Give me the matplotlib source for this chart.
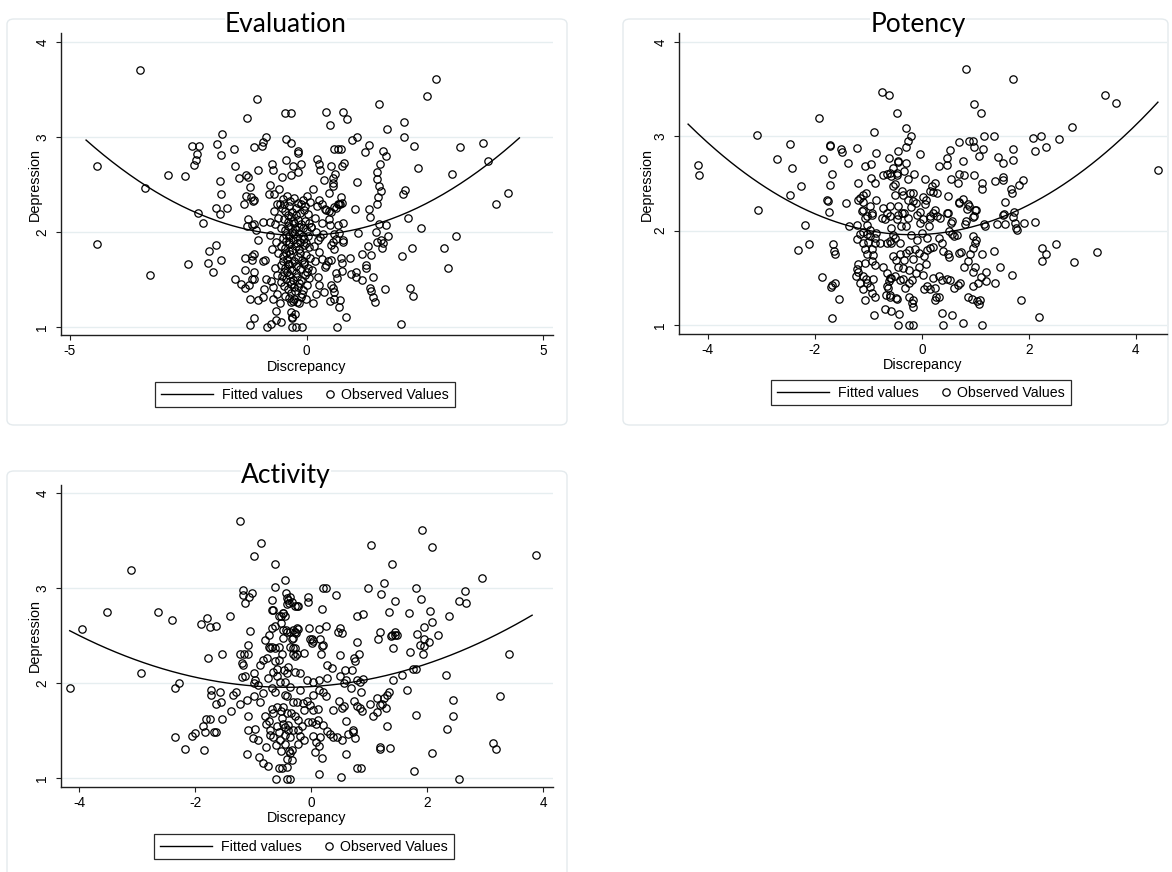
import numpy as np
import matplotlib.pyplot as plt
from matplotlib.legend_handler import HandlerLine2D
from matplotlib.patches import FancyBboxPatch

plt.rcParams["font.family"] = ["Liberation Sans", "DejaVu Sans"]
plt.rcParams["axes.unicode_minus"] = False

# ── data ─────────────────────────────────────────────────────────────
eval_obs = np.array([
    (-4.43, 2.69), (-4.43, 1.87), (-3.51, 3.71), (-3.41, 2.46), (-3.30, 1.55),
    (-2.93, 2.60), (-2.57, 2.59), (-2.50, 1.66), (-2.42, 2.91), (-2.37, 2.71),
    (-2.33, 2.76), (-2.32, 2.82), (-2.29, 2.20), (-2.28, 2.91), (-2.19, 2.10),
    (-2.09, 1.67), (-2.06, 1.80), (-1.97, 1.58), (-1.92, 2.25), (-1.92, 1.86),
    (-1.90, 2.93), (-1.83, 2.54), (-1.82, 2.19), (-1.80, 2.81), (-1.80, 2.40),
    (-1.80, 1.71), (-1.78, 3.03), (-1.68, 2.25), (-1.54, 2.87), (-1.52, 2.70),
    (-1.51, 1.51), (-1.43, 2.57), (-1.38, 1.45), (-1.33, 2.29), (-1.31, 1.60),
    (-1.30, 1.73), (-1.30, 1.41), (-1.27, 2.60), (-1.27, 2.38), (-1.26, 2.06),
    (-1.25, 3.20), (-1.24, 2.58), (-1.24, 2.14), (-1.21, 1.44), (-1.20, 1.29),
    (-1.20, 1.02), (-1.19, 2.47), (-1.17, 2.37), (-1.16, 2.07), (-1.16, 1.75),
    (-1.16, 1.71), (-1.16, 1.51), (-1.14, 2.33), (-1.12, 1.51), (-1.11, 2.90),
    (-1.11, 2.34), (-1.11, 1.58), (-1.11, 1.10), (-1.10, 2.08), (-1.10, 1.77),
    (-1.06, 2.02), (-1.05, 3.40), (-1.03, 2.65), (-1.03, 1.92), (-1.03, 1.28),
    (-0.95, 2.91), (-0.93, 1.32), (-0.92, 2.95), (-0.92, 2.11), (-0.92, 1.69),
    (-0.89, 1.40), (-0.87, 1.71), (-0.86, 3.00), (-0.85, 1.51), (-0.83, 1.00),
    (-0.80, 2.40), (-0.78, 2.49), (-0.78, 2.11), (-0.78, 1.97), (-0.75, 1.03),
    (-0.72, 2.72), (-0.71, 1.42), (-0.70, 2.65), (-0.66, 2.08), (-0.64, 1.17),
    (-0.64, 1.07), (-0.56, 1.25), (-0.53, 1.05), (-0.51, 2.58), (-0.45, 3.25),
    (-0.44, 2.98), (-0.44, 2.76), (-0.33, 3.25), (-0.32, 2.94), (-0.32, 2.60),
    (-0.29, 2.69), (-0.18, 2.85), (-0.18, 2.83), (-0.18, 2.63), (-0.11, 2.72),
    (-0.30, 1.00), (-0.23, 1.00), (-0.09, 1.00), (-0.31, 1.09), (-0.25, 1.14),
    (-0.33, 1.26), (-0.20, 1.26), (-0.29, 1.27), (-0.15, 1.25), (-0.32, 1.16),
    (-0.30, 1.11), (-0.62, 2.30), (-0.68, 2.22), (-0.60, 2.15), (-0.65, 1.90),
    (-0.72, 1.82), (-0.60, 1.78), (-0.67, 1.62), (-0.62, 1.55), (-0.75, 1.48),
    (-0.68, 2.40), (-0.58, 2.45), (-0.62, 1.35), (-0.70, 1.30),
    (-0.50, 2.35), (-0.42, 2.38), (-0.35, 2.33), (-0.27, 2.36), (-0.18, 2.31),
    (-0.08, 2.34), (0.02, 2.38), (0.08, 2.32), (-0.52, 2.25), (-0.45, 2.22),
    (-0.38, 2.27), (-0.30, 2.21), (-0.22, 2.25), (-0.14, 2.20), (-0.05, 2.23),
    (0.04, 2.19), (-0.48, 2.14), (-0.40, 2.11), (-0.33, 2.16), (-0.26, 2.09),
    (-0.19, 2.13), (-0.11, 2.08), (-0.03, 2.12), (0.06, 2.10), (-0.55, 2.04),
    (-0.46, 2.02), (-0.39, 2.06), (-0.31, 2.00), (-0.24, 2.03), (-0.16, 1.99),
    (-0.08, 2.04), (0.01, 2.01), (0.09, 2.05), (-0.50, 1.94), (-0.43, 1.91),
    (-0.36, 1.96), (-0.28, 1.92), (-0.21, 1.95), (-0.13, 1.90), (-0.05, 1.93),
    (0.03, 1.96), (-0.53, 1.85), (-0.45, 1.83), (-0.38, 1.87), (-0.30, 1.81),
    (-0.23, 1.85), (-0.15, 1.82), (-0.06, 1.86), (0.05, 1.84), (-0.49, 1.75),
    (-0.41, 1.72), (-0.34, 1.77), (-0.27, 1.70), (-0.19, 1.74), (-0.10, 1.71),
    (-0.02, 1.76), (0.07, 1.73), (-0.55, 1.65), (-0.46, 1.62), (-0.38, 1.66),
    (-0.31, 1.60), (-0.23, 1.64), (-0.14, 1.61), (-0.05, 1.66), (0.04, 1.62),
    (-0.52, 1.54), (-0.44, 1.51), (-0.36, 1.55), (-0.28, 1.49), (-0.20, 1.53),
    (-0.12, 1.50), (-0.03, 1.55), (0.06, 1.52), (-0.48, 1.43), (-0.40, 1.40),
    (-0.33, 1.45), (-0.25, 1.38), (-0.17, 1.42), (-0.08, 1.39), (0.02, 1.44),
    (-0.45, 1.33), (-0.37, 1.31), (-0.12, 1.32), (-0.02, 1.30),
    (-0.47, 2.30), (-0.40, 2.18), (-0.34, 2.05), (-0.27, 1.98), (-0.20, 1.88),
    (-0.13, 1.78), (-0.06, 1.68), (0.00, 1.58), (-0.44, 1.97), (-0.37, 1.80),
    (-0.30, 1.67), (-0.23, 1.57), (-0.16, 1.46), (-0.09, 1.35), (-0.41, 1.58),
    (-0.34, 1.48), (-0.27, 1.42), (-0.50, 1.70), (-0.43, 1.78), (-0.36, 1.90),
    (-0.29, 2.12), (-0.22, 2.18), (-0.15, 2.05), (-0.08, 1.96), (-0.01, 1.88),
    (-0.54, 1.47), (-0.47, 1.58), (-0.40, 1.66), (-0.33, 1.36), (-0.26, 1.30),
    (-0.57, 2.30), (-0.11, 2.30), (-0.04, 2.27), (0.23, 2.27), (0.33, 2.29),
    (0.40, 2.24), (0.47, 2.22), (0.59, 2.26), (0.66, 2.29), (0.71, 2.30),
    (0.49, 2.07), (0.66, 2.07), (0.77, 2.09), (0.47, 2.14), (0.33, 2.09),
    (0.21, 2.00), (0.35, 1.98), (0.24, 1.92), (0.26, 1.79), (0.59, 1.98),
    (0.23, 2.77), (0.27, 2.72), (0.29, 2.65), (0.37, 2.55), (0.42, 3.26),
    (0.49, 3.13), (0.52, 2.69), (0.55, 2.52), (0.56, 2.48), (0.57, 2.57),
    (0.59, 2.87), (0.60, 2.61), (0.66, 2.87), (0.73, 2.87), (0.75, 2.70),
    (0.77, 3.26), (0.80, 2.73), (0.86, 3.19), (0.97, 2.97), (1.07, 3.00),
    (1.23, 2.84), (1.32, 2.92), (1.53, 3.35), (1.56, 2.72), (1.61, 2.85),
    (1.68, 2.80), (1.71, 3.08), (2.05, 3.16), (2.06, 3.00), (2.28, 2.91),
    (2.35, 2.67), (2.54, 3.43), (2.73, 3.61), (3.07, 2.61), (3.24, 2.89),
    (3.74, 2.94), (3.83, 2.75), (4.00, 2.29), (4.26, 2.41),
    (0.26, 2.34), (0.42, 2.23), (0.47, 2.41), (0.52, 2.21), (0.63, 2.25),
    (0.68, 2.29), (0.73, 2.37), (0.76, 2.31), (1.03, 2.24), (1.06, 2.53),
    (1.32, 2.24), (1.35, 2.16), (1.49, 2.63), (1.49, 2.29), (1.50, 2.56),
    (1.52, 2.37), (1.54, 2.48), (1.58, 2.43), (2.03, 2.40), (2.09, 2.44),
    (2.14, 2.15), (0.24, 1.53), (0.27, 1.44), (0.37, 1.37), (0.38, 1.63),
    (0.42, 1.65), (0.45, 1.69), (0.49, 1.27), (0.52, 1.86), (0.52, 1.71),
    (0.52, 1.44), (0.56, 1.90), (0.56, 1.41), (0.59, 1.82), (0.59, 1.37),
    (0.59, 1.30), (0.62, 1.57), (0.63, 1.93), (0.64, 1.00), (0.65, 1.52),
    (0.68, 1.99), (0.68, 1.21), (0.70, 1.28), (0.73, 1.73), (0.75, 1.59),
    (0.76, 1.67), (0.77, 1.92), (0.78, 1.89), (0.84, 1.11), (0.92, 1.73),
    (0.93, 1.56), (1.05, 1.58), (1.05, 1.53), (1.08, 1.99), (1.17, 1.49),
    (1.18, 1.77), (1.25, 1.65), (1.26, 1.62), (1.30, 1.85), (1.35, 1.41),
    (1.37, 1.76), (1.37, 1.38), (1.40, 1.53), (1.40, 1.32), (1.44, 1.26),
    (1.47, 2.00), (1.49, 1.89), (1.53, 2.08), (1.58, 1.92), (1.59, 1.83),
    (1.61, 1.88), (1.66, 1.40), (1.67, 2.07), (1.72, 1.96), (1.99, 1.03),
    (2.02, 1.75), (2.18, 1.41), (2.23, 1.83), (2.25, 1.33), (2.42, 2.04),
    (2.90, 1.83), (2.99, 1.62), (3.15, 1.96), (0.12, 1.60), (0.15, 1.85),
    (0.18, 2.15), (0.13, 2.45), (0.20, 1.35), (0.28, 1.95), (0.32, 1.72),
    (0.14, 1.25), (0.10, 2.05), (0.17, 1.70),
])
eval_fit_x = [-4.66, -3.39, -1.56, -0.78, 0.00, 1.86, 4.50]
eval_fit_y = [2.98, 2.46, 2.09, 1.97, 1.97, 2.15, 2.99]

pot_obs = np.array([
    (-4.18, 2.70), (-4.16, 2.59), (-3.08, 3.01), (-3.06, 2.22), (-2.70, 2.76),
    (-2.46, 2.92), (-2.46, 2.38), (-2.43, 2.66), (-2.32, 1.80), (-2.26, 2.47),
    (-2.18, 2.06), (-2.11, 1.86), (-1.93, 3.19), (-1.86, 1.51), (-1.84, 2.76),
    (-1.77, 2.32), (-1.75, 2.31), (-1.74, 2.20), (-1.72, 2.91), (-1.71, 2.90),
    (-1.72, 2.48), (-1.70, 1.40), (-1.69, 1.42), (-1.69, 1.07), (-1.68, 2.60),
    (-1.66, 1.86), (-1.64, 1.78), (-1.63, 1.75), (-1.63, 1.45), (-1.55, 1.28),
    (-1.51, 2.87), (-1.49, 2.83), (-1.42, 2.29), (-1.38, 2.72), (-1.36, 2.05),
    (-1.23, 1.52), (-1.22, 2.88), (-1.22, 2.06), (-1.22, 1.91), (-1.22, 1.59),
    (-1.20, 2.51), (-1.20, 2.32), (-1.19, 1.65), (-1.19, 1.56), (-1.16, 1.96),
    (-1.16, 1.45), (-1.15, 2.35), (-1.12, 2.21), (-1.11, 1.99), (-1.10, 2.38),
    (-1.10, 2.30), (-1.10, 2.22), (-1.10, 1.87), (-1.10, 1.52), (-1.10, 1.38),
    (-1.07, 2.69), (-1.07, 2.13), (-1.07, 1.81), (-1.07, 1.66), (-1.07, 1.27),
    (-1.05, 2.40), (-1.05, 1.49), (-1.03, 2.16), (-1.03, 2.06), (-1.03, 1.96),
    (-1.03, 1.75), (-1.03, 1.45), (-1.00, 1.88), (-0.97, 2.26), (-0.97, 2.01),
    (-0.97, 1.94), (-0.97, 1.40), (-0.96, 2.71), (-0.96, 2.56), (-0.94, 2.19),
    (-0.94, 2.17), (-0.94, 1.68), (-0.94, 1.34), (-0.93, 1.81), (-0.91, 1.74),
    (-0.91, 1.49), (-0.90, 3.05), (-0.89, 1.11), (-0.88, 2.50), (-0.88, 1.92),
    (-0.88, 1.64), (-0.88, 1.30), (-0.87, 1.87), (-0.85, 2.82), (-0.85, 2.32),
    (-0.85, 1.98), (-0.79, 1.87), (-0.75, 3.47), (-0.75, 2.13), (-0.73, 1.61),
    (-0.72, 2.59), (-0.72, 2.24), (-0.69, 1.17), (-0.69, 2.12), (-0.67, 1.32),
    (-0.66, 2.60), (-0.66, 2.19), (-0.66, 1.87), (-0.66, 1.41), (-0.65, 1.55),
    (-0.63, 1.39), (-0.61, 3.44), (-0.61, 2.77), (-0.61, 1.47), (-0.60, 2.61),
    (-0.60, 2.26), (-0.60, 2.16), (-0.60, 1.89), (-0.60, 1.50), (-0.60, 1.30),
    (-0.59, 1.32), (-0.57, 2.58), (-0.57, 2.03), (-0.57, 1.87), (-0.57, 1.50),
    (-0.57, 1.15), (-0.54, 2.66), (-0.54, 2.47), (-0.54, 1.73), (-0.50, 2.49),
    (-0.50, 2.38), (-0.50, 1.92), (-0.50, 1.52), (-0.49, 1.69), (-0.49, 1.29),
    (-0.47, 3.25), (-0.47, 2.61), (-0.47, 2.59), (-0.47, 2.12), (-0.47, 1.28),
    (-0.44, 2.84), (-0.44, 2.74), (-0.44, 2.73), (-0.44, 2.26), (-0.44, 2.17),
    (-0.44, 1.00), (-0.42, 1.12), (-0.41, 1.87), (-0.41, 1.75), (-0.41, 1.48),
    (-0.38, 2.42), (-0.38, 2.19), (-0.35, 2.38), (-0.35, 1.49), (-0.34, 2.63),
    (-0.34, 2.19), (-0.34, 1.69), (-0.32, 1.39), (-0.30, 2.89), (-0.29, 3.09),
    (-0.29, 2.72), (-0.29, 1.76), (-0.26, 2.95), (-0.26, 2.55), (-0.26, 2.33),
    (-0.26, 2.13), (-0.24, 1.80), (-0.24, 1.45), (-0.24, 1.30), (-0.24, 1.00),
    (-0.22, 2.40), (-0.21, 3.00), (-0.19, 1.48), (-0.19, 1.23), (-0.16, 2.40),
    (-0.16, 2.31), (-0.16, 1.70), (-0.16, 1.27), (-0.16, 1.19), (-0.16, 1.00),
    (-0.14, 2.60), (-0.13, 1.81), (-0.11, 2.29), (-0.10, 2.17), (-0.05, 1.76),
    (-0.04, 2.81), (-0.04, 2.20), (-0.04, 2.08), (0.02, 2.36), (0.02, 2.12),
    (0.02, 1.53), (0.04, 1.73), (0.04, 1.38), (0.06, 2.55), (0.07, 2.33),
    (0.09, 1.80), (0.09, 1.41), (0.14, 2.05), (0.15, 2.42), (0.15, 2.16),
    (0.15, 2.13), (0.15, 1.82), (0.15, 1.38), (0.18, 2.47), (0.21, 2.41),
    (0.21, 2.19), (0.21, 1.83), (0.21, 1.50), (0.24, 2.51), (0.24, 2.22),
    (0.24, 1.39), (0.25, 1.27), (0.27, 1.30), (0.29, 2.40), (0.29, 2.16),
    (0.32, 2.69), (0.32, 1.92), (0.32, 1.52), (0.32, 1.30), (0.34, 2.13),
    (0.37, 1.87), (0.37, 1.13), (0.38, 1.48), (0.40, 1.78), (0.40, 1.00),
    (0.46, 2.77), (0.46, 2.19), (0.46, 1.49), (0.47, 2.70), (0.49, 2.37),
    (0.49, 2.19), (0.49, 1.75), (0.51, 2.00), (0.51, 1.72), (0.52, 2.85),
    (0.52, 1.48), (0.54, 2.55), (0.54, 2.08), (0.56, 1.97), (0.57, 2.10),
    (0.57, 1.11), (0.59, 1.94), (0.59, 1.39), (0.65, 1.95), (0.67, 2.51),
    (0.68, 1.42), (0.69, 2.60), (0.69, 2.30), (0.70, 2.94), (0.70, 2.29),
    (0.70, 1.76), (0.71, 1.45), (0.73, 1.77), (0.76, 2.74), (0.76, 1.02),
    (0.77, 2.34), (0.79, 2.59), (0.79, 1.62), (0.80, 2.07), (0.82, 3.71),
    (0.82, 2.10), (0.85, 2.23), (0.87, 2.28), (0.87, 1.68), (0.87, 1.30),
    (0.88, 2.95), (0.88, 2.26), (0.90, 1.75), (0.93, 1.28), (0.95, 2.95),
    (0.96, 2.15), (0.96, 1.94), (0.96, 1.82), (0.96, 1.56), (0.96, 1.41),
    (0.97, 3.34), (0.97, 2.16), (0.98, 2.89), (0.98, 2.59), (0.99, 2.22),
    (0.99, 1.87), (1.00, 1.62), (1.01, 2.22), (1.01, 1.90), (1.02, 1.25),
    (1.05, 1.45), (1.07, 2.79), (1.07, 1.22), (1.08, 1.27), (1.10, 3.25),
    (1.10, 1.51), (1.12, 2.50), (1.12, 1.00), (1.13, 2.44), (1.13, 1.75),
    (1.15, 2.87), (1.16, 3.00), (1.16, 2.07), (1.18, 2.05), (1.19, 1.47),
    (1.20, 1.56), (1.34, 1.78), (1.35, 3.00), (1.36, 2.53), (1.36, 1.45),
    (1.40, 2.07), (1.43, 2.78), (1.46, 1.62), (1.51, 2.54), (1.52, 2.72),
    (1.52, 2.57), (1.52, 2.17), (1.53, 2.18), (1.55, 2.07), (1.56, 2.30),
    (1.66, 2.44), (1.68, 1.53), (1.69, 2.40), (1.70, 3.61), (1.70, 2.75),
    (1.70, 2.14), (1.71, 2.87), (1.72, 2.20), (1.74, 2.08), (1.75, 2.03),
    (1.77, 2.01), (1.82, 2.48), (1.86, 1.27), (1.88, 2.54), (1.91, 2.08),
    (2.08, 2.98), (2.11, 2.09), (2.12, 2.84), (2.19, 1.08), (2.23, 3.00),
    (2.25, 1.82), (2.25, 1.68), (2.31, 2.89), (2.31, 1.75), (2.50, 1.86),
    (2.56, 2.97), (2.80, 3.10), (2.84, 1.67), (3.27, 1.77), (3.42, 3.44),
    (3.62, 3.35), (4.42, 2.64),
    (-0.30, 2.05), (-0.20, 1.95), (-0.10, 1.90), (0.00, 1.98), (0.10, 1.92),
    (-0.35, 1.60), (-0.25, 1.58), (-0.12, 1.55), (-0.05, 1.62), (0.08, 1.65),
    (-0.45, 1.62), (-0.55, 1.95), (-0.40, 2.05), (-0.20, 2.25), (0.05, 2.28),
])
pot_fit_x = [-4.37, -1.35, -0.17, 1.70, 4.41]
pot_fit_y = [3.13, 2.05, 1.95, 2.20, 3.36]

act_obs = np.array([
    (-4.16, 1.95), (-3.95, 2.57), (-3.52, 2.75), (-3.11, 3.19), (-2.93, 2.10),
    (-2.63, 2.75), (-2.40, 2.66), (-2.35, 1.95), (-2.34, 1.43), (-2.28, 2.00),
    (-2.18, 1.31), (-2.06, 1.44), (-2.00, 1.47), (-1.90, 2.62), (-1.87, 1.55),
    (-1.84, 1.29), (-1.83, 1.48), (-1.81, 1.62), (-1.79, 2.68), (-1.77, 2.26),
    (-1.74, 2.59), (-1.74, 1.62), (-1.72, 1.93), (-1.72, 1.87), (-1.68, 1.48),
    (-1.64, 2.60), (-1.64, 1.78), (-1.63, 1.48), (-1.57, 1.90), (-1.56, 1.80),
    (-1.54, 1.62), (-1.53, 2.31), (-1.40, 2.70), (-1.38, 1.70), (-1.34, 1.87),
    (-1.30, 1.91), (-1.22, 3.71), (-1.22, 2.31), (-1.22, 1.78), (-1.19, 2.21),
    (-1.19, 2.06), (-1.18, 2.93), (-1.17, 2.98), (-1.17, 2.19), (-1.15, 2.31),
    (-1.14, 2.84), (-1.14, 2.07), (-1.11, 1.82), (-1.11, 1.25), (-1.09, 2.40),
    (-1.09, 1.50), (-1.08, 2.31), (-1.08, 1.65), (-1.07, 2.90), (-1.05, 2.55),
    (-1.01, 2.95), (-1.00, 1.42), (-0.99, 2.10), (-0.99, 2.00), (-0.99, 1.86),
    (-0.98, 3.34), (-0.97, 2.03), (-0.97, 1.52), (-0.92, 1.98), (-0.91, 1.40),
    (-0.89, 1.22), (-0.88, 2.19), (-0.88, 1.80), (-0.87, 3.47), (-0.83, 2.24),
    (-0.82, 1.89), (-0.82, 1.16), (-0.77, 1.57), (-0.77, 1.33), (-0.76, 2.26),
    (-0.74, 1.13), (-0.72, 2.51), (-0.72, 2.38), (-0.71, 2.37), (-0.71, 1.50),
    (-0.68, 2.87), (-0.68, 2.58), (-0.68, 1.73), (-0.67, 2.77), (-0.67, 2.38),
    (-0.65, 2.77), (-0.65, 2.12), (-0.65, 1.43), (-0.63, 3.01), (-0.62, 3.25),
    (-0.62, 2.60), (-0.62, 2.37), (-0.62, 2.23), (-0.62, 1.91), (-0.60, 0.99),
    (-0.59, 2.07), (-0.59, 1.75), (-0.56, 2.38), (-0.56, 1.48), (-0.55, 2.70),
    (-0.55, 2.24), (-0.55, 1.11), (-0.53, 2.01), (-0.53, 1.40), (-0.51, 2.70),
    (-0.51, 2.63), (-0.51, 1.70), (-0.50, 1.63), (-0.50, 1.11), (-0.49, 2.74),
    (-0.49, 2.56), (-0.48, 2.74), (-0.48, 2.47), (-0.48, 1.75), (-0.48, 1.57),
    (-0.47, 2.14), (-0.45, 3.08), (-0.45, 2.71), (-0.45, 2.01), (-0.45, 1.87),
    (-0.45, 1.54), (-0.45, 1.36), (-0.43, 2.95), (-0.43, 2.56), (-0.42, 2.83),
    (-0.42, 2.10), (-0.42, 1.86), (-0.42, 1.68), (-0.42, 1.20), (-0.41, 2.89),
    (-0.41, 2.54), (-0.41, 1.12), (-0.41, 0.99), (-0.39, 2.87), (-0.39, 2.17),
    (-0.39, 1.56), (-0.39, 1.50), (-0.37, 0.99), (-0.38, 2.84), (-0.38, 1.28),
    (-0.36, 2.90), (-0.36, 2.54), (-0.36, 2.38), (-0.36, 1.96), (-0.36, 1.43),
    (-0.36, 1.26), (-0.34, 1.68), (-0.33, 2.85), (-0.33, 1.29), (-0.32, 2.46),
    (-0.32, 1.19), (-0.31, 2.56), (-0.31, 2.47), (-0.31, 2.37), (-0.31, 2.30),
    (-0.31, 1.80), (-0.31, 1.50), (-0.28, 2.81), (-0.28, 2.54), (-0.28, 2.37),
    (-0.28, 2.28), (-0.28, 2.12), (-0.26, 2.53), (-0.25, 2.81), (-0.25, 2.31),
    (-0.25, 1.80), (-0.24, 2.58), (-0.23, 2.81), (-0.23, 1.61), (-0.22, 2.57),
    (-0.22, 1.50), (-0.22, 1.36), (-0.19, 2.10), (-0.19, 1.93), (-0.19, 1.44),
    (-0.14, 1.79), (-0.13, 2.32), (-0.13, 1.72), (-0.13, 1.40), (-0.07, 2.03),
    (-0.07, 1.81), (-0.06, 2.85), (-0.05, 2.91), (-0.05, 1.59), (-0.03, 2.58),
    (-0.02, 2.46), (-0.02, 1.77), (0.01, 2.46), (0.01, 2.42), (0.01, 1.59),
    (0.04, 2.44), (0.04, 2.01), (0.04, 1.87), (0.04, 1.72), (0.04, 1.44),
    (0.07, 1.27), (0.09, 1.57), (0.09, 1.38), (0.12, 1.73), (0.12, 1.61),
    (0.13, 2.57), (0.13, 2.03), (0.14, 1.93), (0.14, 1.34), (0.14, 1.04),
    (0.16, 2.46), (0.16, 1.43), (0.17, 2.31), (0.18, 2.78), (0.18, 2.39),
    (0.18, 1.21), (0.21, 3.00), (0.21, 2.40), (0.21, 1.90), (0.21, 1.56),
    (0.25, 3.00), (0.26, 2.60), (0.26, 1.86), (0.27, 2.19), (0.27, 2.05),
    (0.27, 1.49), (0.33, 1.46), (0.36, 2.16), (0.37, 1.72), (0.38, 1.43),
    (0.43, 2.93), (0.44, 1.43), (0.47, 2.54), (0.49, 1.81), (0.50, 2.58),
    (0.50, 2.29), (0.50, 2.07), (0.52, 1.01), (0.53, 2.53), (0.53, 1.74),
    (0.53, 1.40), (0.56, 2.00), (0.56, 1.76), (0.59, 2.14), (0.60, 2.03),
    (0.60, 1.60), (0.61, 1.25), (0.64, 1.46), (0.69, 1.95), (0.70, 2.14),
    (0.72, 1.51), (0.73, 1.48), (0.74, 2.26), (0.74, 1.81), (0.76, 2.23),
    (0.76, 1.42), (0.79, 2.03), (0.80, 2.70), (0.80, 2.43), (0.80, 1.76),
    (0.80, 1.10), (0.82, 2.31), (0.84, 2.01), (0.84, 1.74), (0.86, 1.90),
    (0.86, 1.10), (0.87, 1.70), (0.89, 2.73), (0.89, 2.04), (0.99, 3.00),
    (1.02, 1.78), (1.04, 3.45), (1.07, 1.65), (1.13, 1.84), (1.13, 1.69),
    (1.16, 2.46), (1.18, 2.54), (1.18, 1.33), (1.18, 1.30), (1.19, 1.77),
    (1.21, 2.94), (1.22, 1.78), (1.26, 3.05), (1.26, 1.84), (1.29, 1.74),
    (1.31, 1.87), (1.31, 1.55), (1.34, 2.75), (1.35, 1.91), (1.36, 1.32),
    (1.38, 2.49), (1.39, 2.50), (1.40, 3.25), (1.42, 2.37), (1.42, 2.03),
    (1.44, 2.86), (1.45, 2.54), (1.45, 2.51), (1.48, 2.50), (1.56, 2.08),
    (1.66, 1.93), (1.69, 2.74), (1.71, 2.33), (1.75, 2.15), (1.78, 1.07),
    (1.81, 3.00), (1.81, 2.15), (1.81, 1.66), (1.83, 2.52), (1.88, 2.40),
    (1.89, 2.88), (1.91, 3.61), (1.93, 2.31), (1.94, 2.59), (1.94, 2.46),
    (1.94, 2.39), (2.04, 2.43), (2.05, 2.76), (2.08, 2.64), (2.08, 1.26),
    (2.09, 3.43), (2.19, 2.50), (2.32, 2.08), (2.35, 1.52), (2.37, 2.71),
    (2.44, 1.82), (2.45, 1.65), (2.55, 2.86), (2.55, 0.99), (2.66, 2.97),
    (2.67, 2.84), (2.94, 3.11), (3.13, 1.37), (3.18, 1.30), (3.26, 1.86),
    (3.42, 2.30), (3.87, 3.35),
    (-0.80, 1.65), (-0.72, 1.60), (-0.65, 1.68), (-0.58, 1.55), (-0.70, 1.45),
    (-0.60, 1.35), (-0.52, 1.28), (-0.75, 2.05), (-0.68, 1.95), (-0.58, 2.15),
    (-0.50, 2.30), (-0.80, 2.45), (-0.45, 1.45), (-0.28, 1.65), (-0.15, 1.55),
])
act_fit_x = [-4.16, -2.93, -1.34, -0.36, 0.33, 1.76, 3.37, 3.81]
act_fit_y = [2.54, 2.24, 1.99, 1.95, 1.98, 2.15, 2.56, 2.72]

titles = ["Evaluation", "Potency", "Activity"]
x_ticks = [[-5, 0, 5], [-4, -2, 0, 2, 4], [-4, -2, 0, 2, 4]]
y_ticks = [1, 2, 3, 4]
legend_labels = ["Fitted values", "Observed Values"]

# ── layout (pixel positions on the 1172 x 872 canvas) ────────────────
W, H = 1172, 872
layout = [
    dict(box=(7, 19, 567, 425), ax=(61, 33, 553, 335), xlim=(-5.19, 5.21),
         ylim=(0.916, 4.095), title=(286, 32), xlab=(307, 367), ylab=(35, 184),
         leg=(155, 382)),
    dict(box=(623, 19, 1168, 425), ax=(679, 33, 1167, 334), xlim=(-4.54, 4.58),
         ylim=(0.905, 4.095), title=(918, 32), xlab=(923, 365), ylab=(647, 184),
         leg=(771, 380)),
    dict(box=(7, 471, 567, 880), ax=(61, 485, 553, 787), xlim=(-4.31, 4.17),
         ylim=(0.905, 4.084), title=(286, 483), xlab=(307, 818), ylab=(35, 636),
         leg=(154, 834)),
]
GRID = "#e6eef0"
BOX = "#e4eaed"
AXC = "#1e1e1e"


class MarkerAtEnd(HandlerLine2D):
    """Stata puts the marker key at the right end of its legend slot."""
    def get_xdata(self, legend, xdescent, ydescent, width, height, fontsize):
        xm = -xdescent + width - 0.15 * fontsize
        return [xm, xm], [xm]


fig = plt.figure(figsize=(W / 100, H / 100), dpi=100)
fig.patch.set_facecolor("white")

panels = [(eval_obs, eval_fit_x, eval_fit_y),
          (pot_obs, pot_fit_x, pot_fit_y),
          (act_obs, act_fit_x, act_fit_y)]

for (obs, fit_x, fit_y), lay, title, xt in zip(panels, layout, titles, x_ticks):
    l, t, r, b = lay["box"]
    fig.add_artist(FancyBboxPatch((l / W, 1 - b / H), (r - l) / W, (b - t) / H,
                                  boxstyle="round,pad=0,rounding_size=0.006",
                                  transform=fig.transFigure, fc="none", ec=BOX,
                                  lw=1.0, zorder=0))

    l, t, r, b = lay["ax"]
    ax = fig.add_axes([l / W, 1 - b / H, (r - l) / W, (b - t) / H])
    ax.patch.set_visible(False)
    ax.set_xlim(*lay["xlim"])
    ax.set_ylim(*lay["ylim"])

    # quadratic fit line (through points)
    coef = np.polyfit(fit_x, fit_y, 2)
    xs = np.linspace(min(fit_x), max(fit_x), 200)
    fit_line, = ax.plot(xs, np.polyval(coef, xs), color="black", lw=1.0, zorder=3)
    obs_line, = ax.plot(obs[:, 0], obs[:, 1], ls="none", marker="o", ms=5.3,
                        mfc="none", mec="black", mew=0.9, zorder=2)

    ax.set_xticks(xt)
    ax.set_xticklabels([str(v) for v in xt])
    ax.set_yticks(y_ticks)
    ax.set_yticklabels([str(v) for v in y_ticks])
    ax.grid(axis="y", color=GRID, lw=1.0)
    ax.set_axisbelow(True)
    for s in ["top", "right"]:
        ax.spines[s].set_visible(False)
    for s in ["left", "bottom"]:
        ax.spines[s].set_color(AXC)
        ax.spines[s].set_linewidth(1.0)
    ax.tick_params(direction="out", length=3.3, width=0.8, color=AXC,
                   labelsize=9.8, labelcolor="black")
    ax.tick_params(axis="y", pad=5.0)
    ax.tick_params(axis="x", pad=3.5)
    for lab in ax.get_yticklabels():
        lab.set_rotation(90)
        lab.set_va("center")

    tx, ty = lay["title"]
    fig.text(tx / W, 1 - ty / H, title, ha="center", va="baseline",
             fontsize=19, family=["Lato", "DejaVu Sans"],
             bbox=dict(fc="white", ec="none", pad=0))
    xx, xy = lay["xlab"]
    fig.text(xx / W, 1 - xy / H, "Discrepancy", ha="center", va="center", fontsize=10.4)
    yx, yy = lay["ylab"]
    fig.text(yx / W, 1 - yy / H, "Depression", ha="center", va="center",
             rotation=90, fontsize=10.4)

    lx, ly = lay["leg"]
    leg = ax.legend([fit_line, obs_line], legend_labels, ncol=2,
                    loc="upper left", bbox_to_anchor=(lx / W, 1 - ly / H),
                    bbox_transform=fig.transFigure, borderaxespad=0,
                    fancybox=False, framealpha=1, fontsize=10.2,
                    handlelength=3.7, handletextpad=0.63, columnspacing=-1.6,
                    borderpad=0.4,
                    handler_map={obs_line: MarkerAtEnd(numpoints=1)})
    leg.get_frame().set_edgecolor("#2a2a2a")
    leg.get_frame().set_linewidth(0.9)

fig.savefig("out.png", dpi=100, facecolor="white")
